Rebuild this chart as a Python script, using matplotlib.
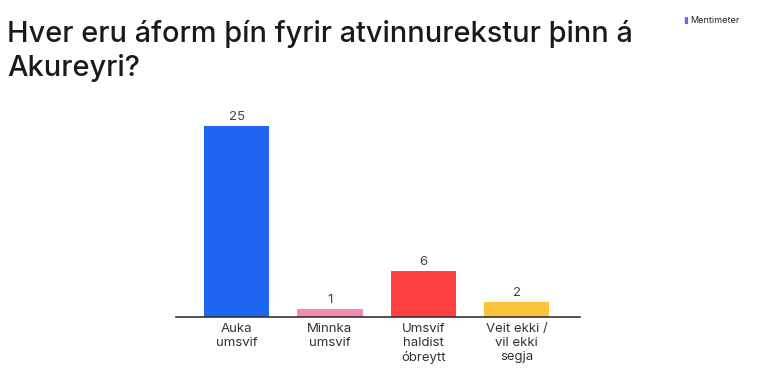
import matplotlib.pyplot as plt

# answers and vote counts
categories = ["Auka\numsvif", "Minnka\numsvif", "Umsvif\nhaldist\nóbreytt", "Veit ekki /\nvil ekki\nsegja"]
votes = [25, 1, 6, 2]
bar_colors = ["#1e66f2", "#f38ab3", "#ff4040", "#fbc43c"]

title = "Hver eru áform þín fyrir atvinnurekstur þinn á\nAkureyri?"

plt.rcParams['font.family'] = ['Inter', 'DejaVu Sans']

fig = plt.figure(figsize=(7.69, 3.78), dpi=100)
ax = fig.add_axes([0.2289, 0.1614, 0.5254, 0.5476])

x = range(len(votes))
bars = ax.bar(x, votes, width=0.7, color=bar_colors)
for b, v in zip(bars, votes):
    ax.text(b.get_x() + b.get_width() / 2, v + 0.4, str(v), ha="center", va="bottom",
            fontsize=9.5, color="#444444")

ax.set_xlim(-0.65, 3.68)
ax.set_ylim(0, 27.1)
ax.set_xticks(list(x))
ax.set_xticklabels(categories, fontsize=9.5, color="#333333", linespacing=1.25, va="top")
ax.tick_params(axis="x", length=0, pad=4)
ax.set_yticks([])
for s in ["top", "right", "left"]:
    ax.spines[s].set_visible(False)
ax.spines["bottom"].set_color("#333333")
ax.spines["bottom"].set_linewidth(1.2)

fig.text(0.009, 0.948, title, ha="left", va="top", fontsize=20.8, color="#1a1a1a",
         linespacing=1.3, fontweight=500)
fig.text(0.897, 0.945, "Mentimeter", ha="left", va="center", fontsize=6.5, color="#222222")
fig.text(0.888, 0.945, "▮", ha="left", va="center", fontsize=6.5, color="#7b5cf0",
         family=['DejaVu Sans'])

fig.savefig("out.png", dpi=100, facecolor="white")
